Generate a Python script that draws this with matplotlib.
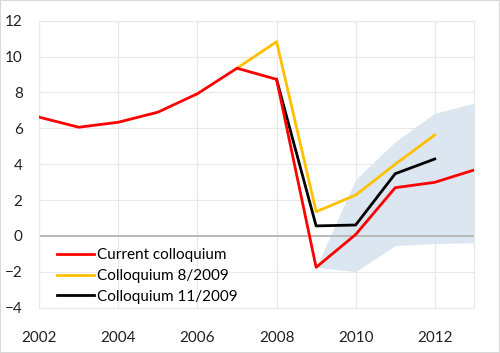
import matplotlib.pyplot as plt
from matplotlib.patches import Rectangle

plt.rcParams['font.family'] = ['Lato', 'DejaVu Sans']

years_current = [2002, 2003, 2004, 2005, 2006, 2007, 2008, 2009, 2010, 2011, 2012, 2013]
current = [6.62, 6.06, 6.34, 6.9, 7.93, 9.35, 8.73, -1.75, 0.08, 2.69, 2.99, 3.68]

years_aug = [2007, 2008, 2009, 2010, 2011, 2012]
aug2009 = [9.35, 10.83, 1.35, 2.28, 4.0, 5.63]

years_nov = [2008, 2009, 2010, 2011, 2012]
nov2009 = [8.73, 0.56, 0.61, 3.47, 4.29]

years_band = [2009, 2010, 2011, 2012, 2013]
band_low = [-1.75, -1.99, -0.54, -0.42, -0.38]
band_high = [-1.75, 3.15, 5.26, 6.84, 7.4]

fig = plt.figure(figsize=(5, 3.53), dpi=100)
ax = fig.add_axes([0.0786, 0.1283, 0.87, 0.8131])

ax.fill_between(years_band, band_low, band_high, color='#dce6f0', lw=0, zorder=1)
ax.axhline(0, color='#b0b0b0', lw=1.2, zorder=2)

ax.plot(years_current, current, color='#ff0000', lw=2, label='Current colloquium', zorder=5)
ax.plot(years_aug, aug2009, color='#ffc000', lw=2, label='Colloquium 8/2009', zorder=3)
ax.plot(years_nov, nov2009, color='black', lw=2, label='Colloquium 11/2009', zorder=4)

ax.set_xlim(2002, 2013)
ax.set_ylim(-4, 12)
ax.set_xticks(range(2002, 2013, 2))
ax.set_yticks(range(-4, 13, 2))
ax.grid(True, color='#e8e8e8', lw=0.8, zorder=0)
ax.set_axisbelow(True)
for s in ax.spines.values():
    s.set_color('#e8e8e8')
    s.set_linewidth(0.8)
ax.tick_params(axis='x', length=0, labelsize=11, pad=17, colors='#222222')
ax.tick_params(axis='y', length=0, labelsize=11, pad=12, colors='#222222')

ax.legend(loc='upper left', bbox_to_anchor=(0.041, 0.208), frameon=False,
          borderaxespad=0, borderpad=0,
          fontsize=11, handlelength=2.4, handletextpad=0.2, labelspacing=0.45)

fig.patches.append(Rectangle((0, 0), 1, 1, transform=fig.transFigure,
                             fill=False, edgecolor='#d9d9d9', lw=1.5))

fig.savefig('out.png', dpi=100)
